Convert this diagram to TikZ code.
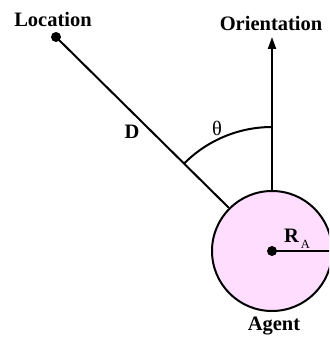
\documentclass[tikz,border=0pt]{standalone}
\usepackage{fontspec}
\setmainfont{Liberation Serif}
\usetikzlibrary{arrows.meta}

\definecolor{agentpink}{RGB}{255,221,255}
\tikzset{
  lbl/.style={font=\fontsize{20.5}{24}\selectfont\bfseries, inner sep=0pt},
  sym/.style={font=\fontsize{20.5}{24}\selectfont, inner sep=0pt},
  dot/.style={circle, fill=black, inner sep=0pt, minimum size=10pt},
}

\begin{document}
\begin{tikzpicture}[x=1pt, y=1pt, line width=2pt]
\useasboundingbox (0,0) rectangle (329,-337);
\clip (0,0) rectangle (329,-337);
% agent and its radius
\node[circle, draw, fill=agentpink, minimum size=120pt, inner sep=0pt] (agent) at (272,-251) {};
\node[dot] (ctr) at (agent.center) {};
\draw (ctr.center) -- (agent.east);
\node[lbl, anchor=base west] (ra) at (283,-242) {R\hspace{2pt}\raisebox{-6pt}{\fontsize{12.5}{14}\selectfont\mdseries A}};
% location and distance
\node[dot] (loc) at (56,-37) {};
\draw (loc.center) -- (agent.135);
\node[lbl, anchor=base] (loclbl) at (53,-27) {Location};
\node[lbl] (dlbl) at (132,-131.5) {D};
% orientation
\coordinate (tip) at (272,-37);
\draw[-{Triangle[length=12pt, width=8pt]}] (agent.north) -- (tip);
\node[lbl, anchor=base] (orlbl) at (271,-31) {Orientation};
% angle
\draw ([shift={(90:124)}]agent.center) arc[start angle=90, end angle=135, radius=124];
\node[sym] (theta) at (217,-128) {θ};
\node[lbl, anchor=base] (aglbl) at (274,-330) {Agent};
\end{tikzpicture}
\end{document}
